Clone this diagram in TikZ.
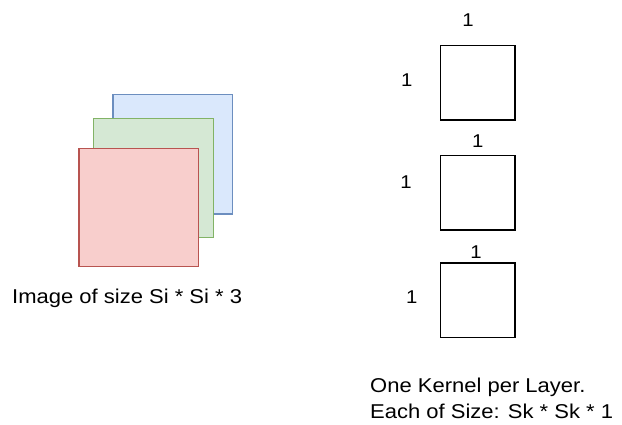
\documentclass[tikz,border=0pt]{standalone}
\usepackage{fontspec}
\setmainfont{Liberation Sans}[FakeStretch=1.1]
\begin{document}
\begin{tikzpicture}[x=1pt,y=-1pt,
  layer/.style={draw, line width=1.3pt, inner sep=0pt, anchor=north west},
  kernel/.style={draw=black, line width=1.4pt, inner sep=0pt, anchor=north west,
    minimum width=74.6pt, minimum height=74.3pt},
  lbl/.style={inner sep=0pt, anchor=base, font=\fontsize{18.5}{22}\selectfont},
  caption/.style={inner sep=0pt, anchor=base west, font=\fontsize{20}{26}\selectfont}]
  \definecolor{blueFill}{HTML}{DAE8FC}\definecolor{blueLine}{HTML}{6C8EBF}
  \definecolor{greenFill}{HTML}{D5E8D4}\definecolor{greenLine}{HTML}{82B366}
  \definecolor{redFill}{HTML}{F8CECC}\definecolor{redLine}{HTML}{B85450}
  \useasboundingbox[fill=white] (0,0) rectangle (622,425);

  % three colour channels of the input image
  \node[layer, fill=blueFill, draw=blueLine, minimum width=119.7pt, minimum height=119.3pt] (chB) at (112.3,94) {};
  \node[layer, fill=greenFill, draw=greenLine, minimum width=119.7pt, minimum height=118.7pt] (chG) at (93,118) {};
  \node[layer, fill=redFill, draw=redLine, minimum width=119.4pt, minimum height=118.3pt] (chR) at (78.3,147.7) {};
  \node[caption] (imgText) at (12,303.3) {Image of size Si * Si * 3};

  % one kernel per layer
  \node[kernel] (k1) at (439.7,45) {};
  \node[kernel] (k2) at (439.7,155) {};
  \node[kernel] (k3) at (439.7,262.4) {};

  \node[lbl] (k1w) at (468,26.7) {1};
  \node[lbl] (k1h) at (406.7,86.7) {1};
  \node[lbl] (k2w) at (477.7,147.7) {1};
  \node[lbl] (k2h) at (406,188.3) {1};
  \node[lbl] (k3w) at (476,258.3) {1};
  \node[lbl] (k3h) at (411.7,303.3) {1};

  \node[caption] (kText1) at (370,392.5) {One Kernel per Layer.};
  \node[caption] (kText2) at (370,418.5) {Each of Size: Sk * Sk * 1};
\end{tikzpicture}
\end{document}
